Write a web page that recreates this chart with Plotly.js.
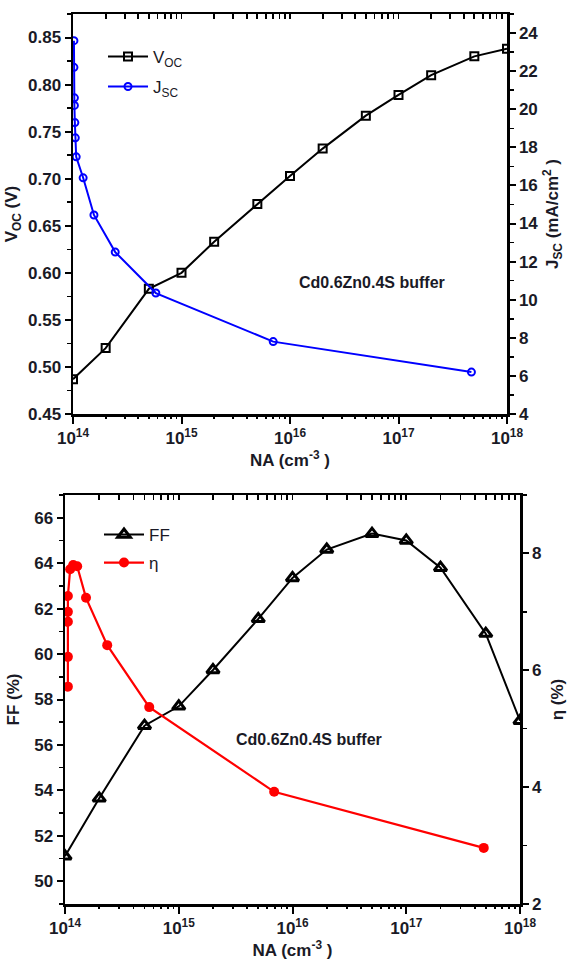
<!DOCTYPE html>
<html>
<head>
<meta charset="utf-8">
<script src="https://cdn.plot.ly/plotly-3.0.1.min.js"></script>
<style>html,body{margin:0;padding:0;background:#fff;}</style>
</head>
<body>
<div id="chart" style="width:567px;height:970px;"></div>
<script>
// ---- data ----
const vocNA = [1e14, 2e14, 5e14, 1e15, 2e15, 5e15, 1e16, 2e16, 5e16, 1e17, 2e17, 5e17, 1e18];
const vocV  = [0.487, 0.520, 0.583, 0.600, 0.633, 0.673, 0.703, 0.732, 0.767, 0.789, 0.810, 0.830, 0.838];

const jscNA = [1.02e14, 1.02e14, 1.03e14, 1.03e14, 1.04e14, 1.05e14, 1.07e14, 1.24e14, 1.56e14, 2.45e14, 5.8e14, 7e15, 4.7e17];
const jscmA = [23.6, 22.2, 20.6, 20.2, 19.3, 18.5, 17.5, 16.4, 14.45, 12.5, 10.35, 7.8, 6.2];

const ffNA  = [1e14, 2e14, 5e14, 1e15, 2e15, 5e15, 1e16, 2e16, 5e16, 1e17, 2e17, 5e17, 1e18];
const ffPct = [51.1, 53.65, 56.85, 57.7, 59.3, 61.55, 63.35, 64.6, 65.3, 65.0, 63.8, 60.9, 57.07];

const etaNA  = [1.06e14, 1.06e14, 1.06e14, 1.06e14, 1.06e14, 1.11e14, 1.18e14, 1.28e14, 1.53e14, 2.35e14, 5.5e14, 6.9e15, 4.8e17];
const etaPct = [5.72, 6.23, 6.83, 7.0, 7.27, 7.73, 7.8, 7.78, 7.24, 6.43, 5.37, 3.92, 2.96];

const decadeVals = [1e14, 1e15, 1e16, 1e17, 1e18];
const decadeText = ['10<sup>14</sup>', '10<sup>15</sup>', '10<sup>16</sup>', '10<sup>17</sup>', '10<sup>18</sup>'];
const minorVals = [];
for (let e = 14; e < 18; e++) for (let m = 2; m <= 9; m++) minorVals.push(m * Math.pow(10, e));
const allVals = decadeVals.concat(minorVals);

const sampleLabel = 'Cd0.6Zn0.4S buffer';

// ---- styling ----
const FONT = 'Liberation Sans, Arial, sans-serif';
const TXT = '#1a1a26';
const tickFont = {family: FONT, size: 17, color: TXT, weight: 'bold'};
const titleFont = {family: FONT, size: 17, color: TXT, weight: 'bold'};
const W = 567, H = 970;

function xAxis(domain, anchor, title) {
  return {
    type: 'log', range: [14, 18], domain: domain, anchor: anchor,
    tickmode: 'array', tickvals: decadeVals, ticktext: decadeText,
    ticks: 'outside', ticklen: 7, tickwidth: 2, tickcolor: '#000',
    showline: true, linewidth: 2.5, linecolor: '#000', mirror: true,
    showgrid: false, zeroline: false, tickfont: tickFont,
    title: {text: title, font: titleFont, standoff: 4}
  };
}
// helper axes (ticks only): minor ticks below the bottom edge, all ticks inside along the top edge
function xHelper(domain, anchor, overl, side, vals, dir, len) {
  return {
    type: 'log', range: [14, 18], domain: domain, anchor: anchor, overlaying: overl, side: side,
    tickmode: 'array', tickvals: vals, ticktext: vals.map(function () { return ''; }),
    ticks: dir, ticklen: len, tickwidth: 1.8, tickcolor: '#000',
    showline: false, showgrid: false, zeroline: false
  };
}
function yAxis(opts) {
  return Object.assign({
    ticks: 'outside', ticklen: 6, tickwidth: 2, tickcolor: '#000',
    showline: true, linewidth: 2.5, linecolor: '#000',
    showgrid: false, zeroline: false, tickfont: tickFont
  }, opts);
}

const traces = [
  {x: vocNA, y: vocV, xaxis: 'x', yaxis: 'y', name: 'V<sub>OC</sub>', mode: 'lines+markers',
   line: {color: '#000', width: 2}, marker: {symbol: 'square-open', size: 8, color: '#000', line: {width: 2, color: '#000'}},
   legend: 'legend'},
  {x: jscNA, y: jscmA, xaxis: 'x', yaxis: 'y2', name: 'J<sub>SC</sub>', mode: 'lines+markers',
   line: {color: '#0000ff', width: 2}, marker: {symbol: 'circle-open', size: 7, color: '#0000ff', line: {width: 2, color: '#0000ff'}},
   legend: 'legend2'},
  {x: ffNA, y: ffPct, xaxis: 'x2', yaxis: 'y3', name: 'FF', mode: 'lines+markers',
   line: {color: '#000', width: 2}, marker: {symbol: 'triangle-up-open', size: 11, color: '#000', line: {width: 3, color: '#000'}},
   legend: 'legend3'},
  {x: etaNA, y: etaPct, xaxis: 'x2', yaxis: 'y4', name: 'η', mode: 'lines+markers',
   line: {color: '#ff0000', width: 2.2}, marker: {symbol: 'circle', size: 10, color: '#ff0000'},
   legend: 'legend4'}
];
// invisible anchors so that the helper tick axes get drawn
[['x3', 'y', 0.6], ['x5', 'y', 0.6], ['x4', 'y3', 60], ['x6', 'y3', 60]].forEach(function (p) {
  traces.push({x: [1e15], y: [p[2]], xaxis: p[0], yaxis: p[1], mode: 'markers',
               marker: {opacity: 0}, showlegend: false, hoverinfo: 'skip'});
});

const legFont = {family: FONT, size: 17, color: TXT};
function leg(xpx, ypx) {
  return {x: xpx / W, y: 1 - ypx / H, xanchor: 'left', yanchor: 'middle', bgcolor: 'rgba(0,0,0,0)',
          borderwidth: 0, font: legFont, itemwidth: 40};
}

const topDom = [1 - 414 / H, 1 - 14 / H];
const botDom = [1 - 904 / H, 1 - 495 / H];
const topX = [73 / W, 507 / W];
const botX = [65 / W, 520 / W];

const layout = {
  width: W, height: H,
  margin: {l: 0, r: 0, t: 0, b: 0},
  paper_bgcolor: '#fff', plot_bgcolor: '#fff',
  showlegend: true,
  legend: leg(103, 57), legend2: leg(103, 87), legend3: leg(99, 535), legend4: leg(99, 563),
  xaxis: xAxis(topX, 'y', 'NA (cm<sup>-3</sup> )'),
  xaxis3: xHelper(topX, 'y', 'x', 'top', allVals, 'inside', 5),
  xaxis5: xHelper(topX, 'y', 'x', 'bottom', minorVals, 'outside', 4),
  yaxis: yAxis({domain: topDom, anchor: 'x', range: [0.45, 0.875], tick0: 0.45, dtick: 0.05, tickformat: '.2f',
    minor: {dtick: 0.025, ticks: 'outside', ticklen: 4, tickwidth: 1.5, tickcolor: '#000'},
    title: {text: 'V<sub>OC</sub> (V)', font: titleFont, standoff: 6}}),
  yaxis2: yAxis({overlaying: 'y', side: 'right', anchor: 'x', range: [4, 25], tick0: 4, dtick: 2,
    minor: {dtick: 1, ticks: 'outside', ticklen: 4, tickwidth: 1.5, tickcolor: '#000'},
    title: {text: 'J<sub>SC</sub> (mA/cm<sup>2</sup> )', font: titleFont, standoff: 9}}),
  xaxis2: xAxis(botX, 'y3', 'NA (cm<sup>-3</sup> )'),
  xaxis4: xHelper(botX, 'y3', 'x2', 'top', allVals, 'inside', 5),
  xaxis6: xHelper(botX, 'y3', 'x2', 'bottom', minorVals, 'outside', 4),
  yaxis3: yAxis({domain: botDom, anchor: 'x2', range: [49, 67], tick0: 50, dtick: 2,
    minor: {dtick: 1, ticks: 'outside', ticklen: 4, tickwidth: 1.5, tickcolor: '#000'},
    title: {text: 'FF (%)', font: titleFont, standoff: 10}}),
  yaxis4: yAxis({overlaying: 'y3', side: 'right', anchor: 'x2', range: [2, 9], tick0: 2, dtick: 2,
    minor: {dtick: 1, ticks: 'outside', ticklen: 4, tickwidth: 1.5, tickcolor: '#000'},
    title: {text: 'η (%)', font: titleFont, standoff: 14}}),
  annotations: [
    {xref: 'paper', yref: 'paper', x: 372 / W, y: 1 - 272 / H, text: sampleLabel, showarrow: false,
     font: {family: FONT, size: 16, color: TXT, weight: 'bold'}},
    {xref: 'paper', yref: 'paper', x: 384 / W, y: 1 - 750 / H, text: sampleLabel, showarrow: false,
     font: {family: FONT, size: 16, color: TXT, weight: 'bold'}}
  ]
};

Plotly.newPlot('chart', traces, layout, {staticPlot: true, displayModeBar: false});
</script>
</body>
</html>
